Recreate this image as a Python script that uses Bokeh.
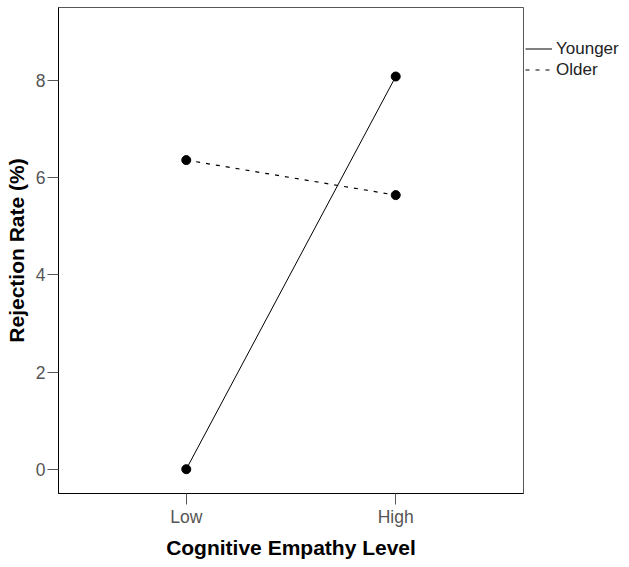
from bokeh.plotting import figure
from bokeh.models import Range1d, FixedTicker, Legend, LegendItem
from bokeh.embed import file_html
from bokeh.resources import INLINE

categories = ["Low", "High"]
younger = [0.0, 8.08]
older = [6.36, 5.64]
y_ticks = [0, 2, 4, 6, 8]

xs = [i + 1 for i in range(len(categories))]

FONT = "Liberation Sans"

p = figure(frame_width=465, frame_height=486, output_backend="svg", toolbar_location=None,
           x_range=Range1d(0.39, 2.61), y_range=Range1d(-0.5, 9.5),
           min_border_left=58, min_border_right=96, min_border_top=7, min_border_bottom=62)
p.background_fill_color = "white"
p.border_fill_color = "white"
p.outline_line_color = "#555555"
p.outline_line_width = 1
p.xgrid.visible = False
p.ygrid.visible = False

r_y = p.line(xs, younger, line_color="black", line_width=1)
r_o = p.line(xs, older, line_color="black", line_width=1.2, line_dash="4 6")
p.scatter(xs, younger, size=9, color="black")
p.scatter(xs, older, size=9, color="black")

for ax in (p.xaxis[0], p.yaxis[0]):
    ax.axis_line_color = "black"
    ax.axis_line_width = 1
    ax.major_tick_line_color = "#555555"
    ax.major_tick_out = 11
    ax.major_tick_in = 0
    ax.minor_tick_line_color = None
    ax.major_label_text_font = FONT
    ax.major_label_text_font_size = "17.5px"
    ax.major_label_text_color = "#555555"
    ax.axis_label_text_font = FONT
    ax.axis_label_text_font_size = "21px"
    ax.axis_label_text_font_style = "bold"
    ax.axis_label_text_color = "black"

p.xaxis.ticker = FixedTicker(ticks=xs)
p.xaxis.major_label_overrides = {x: c for x, c in zip(xs, categories)}
p.xaxis.axis_label = "Cognitive Empathy Level"
p.xaxis.major_label_standoff = 2
p.xaxis.axis_label_standoff = 6

p.yaxis.ticker = FixedTicker(ticks=y_ticks)
p.yaxis.axis_label = "Rejection Rate (%)"
p.yaxis.major_label_standoff = 2
p.yaxis.axis_label_standoff = 5

legend = Legend(items=[LegendItem(label="Younger", renderers=[r_y]),
                       LegendItem(label="Older", renderers=[r_o])],
                location=(2, 413), orientation="vertical")
legend.padding = 3
legend.margin = 0
legend.spacing = 0
legend.glyph_width = 27
legend.glyph_height = 21
legend.label_height = 21
legend.label_standoff = 4
legend.label_text_font = FONT
legend.label_text_font_size = "17px"
legend.label_text_color = "#222222"
legend.border_line_color = None
legend.background_fill_alpha = 0
p.add_layout(legend, "right")

open("out.html", "w").write(file_html(p, INLINE))
